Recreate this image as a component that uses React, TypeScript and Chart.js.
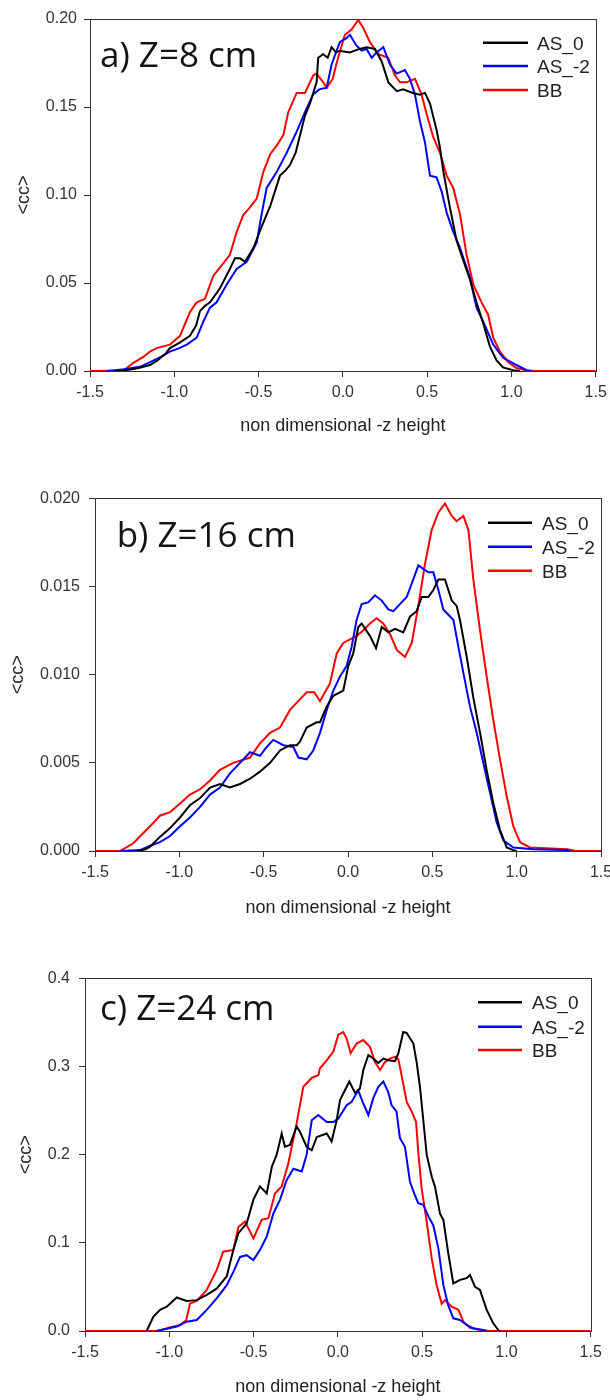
import React, { useEffect, useRef } from "react";
import { Chart, registerables } from "chart.js";

Chart.register(...registerables);

// ---------- axes ----------
const X_TICKS = [-1.5, -1.0, -0.5, 0.0, 0.5, 1.0, 1.5];
const A_Y_TICKS = [0, 0.05, 0.1, 0.15, 0.2];
const B_Y_TICKS = [0, 0.005, 0.01, 0.015, 0.02];
const C_Y_TICKS = [0, 0.1, 0.2, 0.3, 0.4];
const X_TITLE = "non dimensional -z height";
const Y_TITLE = "<cc>";

const SERIES_NAMES = ["AS_0", "AS_-2", "BB"];
const SERIES_COLORS = ["#000000", "#0000ff", "#ff0000"];
const PANEL_LABELS = ["a) Z=8 cm", "b) Z=16 cm", "c) Z=24 cm"];

// ---------- panel a) Z=8 cm : [x, <cc>] ----------
const A_AS0: [number, number][] = [[-1.35,0],[-1.3,0.0003],[-1.25,0.001],[-1.2,0.002],[-1.144,0.0034],[-1.1,0.006],[-1.05,0.01],[-1.026,0.013],[-0.97,0.016],[-0.907,0.02],[-0.87,0.026],[-0.848,0.034],[-0.818,0.037],[-0.788,0.039],[-0.729,0.047],[-0.67,0.058],[-0.64,0.064],[-0.61,0.064],[-0.58,0.062],[-0.53,0.07],[-0.49,0.08],[-0.43,0.094],[-0.373,0.111],[-0.34,0.114],[-0.314,0.117],[-0.28,0.124],[-0.254,0.134],[-0.225,0.145],[-0.195,0.152],[-0.156,0.164],[-0.146,0.178],[-0.117,0.18],[-0.09,0.178],[-0.067,0.184],[-0.04,0.181],[-0.02,0.182],[0.04,0.181],[0.1,0.183],[0.14,0.184],[0.19,0.183],[0.23,0.176],[0.27,0.164],[0.32,0.159],[0.357,0.16],[0.415,0.158],[0.457,0.157],[0.487,0.158],[0.517,0.152],[0.556,0.137],[0.576,0.127],[0.595,0.114],[0.635,0.093],[0.675,0.074],[0.714,0.063],[0.754,0.052],[0.793,0.039],[0.833,0.027],[0.872,0.014],[0.912,0.006],[0.95,0.002],[1.01,0.0005],[1.05,0]];
const A_AS2: [number, number][] = [[-1.4,0],[-1.35,0.0005],[-1.3,0.001],[-1.25,0.0017],[-1.2,0.0025],[-1.144,0.005],[-1.08,0.008],[-1.026,0.011],[-0.97,0.013],[-0.926,0.015],[-0.867,0.019],[-0.828,0.028],[-0.788,0.036],[-0.749,0.039],[-0.69,0.049],[-0.63,0.058],[-0.57,0.062],[-0.511,0.073],[-0.482,0.089],[-0.452,0.104],[-0.393,0.113],[-0.333,0.124],[-0.274,0.136],[-0.225,0.147],[-0.177,0.157],[-0.14,0.16],[-0.096,0.161],[-0.067,0.174],[-0.037,0.182],[-0.017,0.187],[0.02,0.189],[0.042,0.191],[0.08,0.185],[0.112,0.182],[0.141,0.183],[0.171,0.178],[0.2,0.181],[0.24,0.184],[0.28,0.174],[0.319,0.169],[0.368,0.171],[0.398,0.166],[0.428,0.157],[0.457,0.142],[0.487,0.13],[0.517,0.111],[0.556,0.11],[0.586,0.102],[0.616,0.09],[0.655,0.079],[0.695,0.07],[0.754,0.053],[0.793,0.036],[0.833,0.028],[0.892,0.015],[0.951,0.0075],[1.03,0.0034],[1.09,0.0005],[1.12,0]];
const A_BB: [number, number][] = [[-1.5,0],[-1.3,0.0003],[-1.245,0.0045],[-1.184,0.008],[-1.144,0.011],[-1.105,0.013],[-1.026,0.015],[-0.966,0.02],[-0.907,0.0335],[-0.867,0.039],[-0.818,0.041],[-0.769,0.054],[-0.719,0.06],[-0.67,0.066],[-0.63,0.079],[-0.591,0.0886],[-0.551,0.093],[-0.511,0.098],[-0.472,0.113],[-0.432,0.123],[-0.393,0.128],[-0.353,0.134],[-0.324,0.147],[-0.274,0.158],[-0.225,0.158],[-0.175,0.168],[-0.156,0.169],[-0.116,0.164],[-0.096,0.161],[-0.06,0.166],[-0.037,0.175],[0.012,0.191],[0.052,0.194],[0.091,0.1995],[0.121,0.195],[0.16,0.187],[0.21,0.18],[0.269,0.178],[0.309,0.168],[0.339,0.164],[0.378,0.164],[0.428,0.166],[0.467,0.157],[0.497,0.146],[0.536,0.133],[0.576,0.124],[0.616,0.111],[0.655,0.104],[0.695,0.089],[0.734,0.066],[0.774,0.049],[0.823,0.039],[0.862,0.032],[0.892,0.019],[0.932,0.011],[0.981,0.005],[1.03,0.0017],[1.09,0.0003],[1.15,0],[1.5,0]];

// ---------- panel b) Z=16 cm ----------
const B_AS0: [number, number][] = [[-1.25,0],[-1.2,0.0001],[-1.174,0.00024],[-1.115,0.0008],[-1.055,0.0013],[-0.996,0.0019],[-0.937,0.0026],[-0.877,0.003],[-0.818,0.0036],[-0.759,0.0038],[-0.7,0.0036],[-0.64,0.0038],[-0.581,0.0041],[-0.522,0.0045],[-0.462,0.005],[-0.403,0.0057],[-0.344,0.006],[-0.304,0.006],[-0.285,0.0062],[-0.245,0.007],[-0.186,0.0073],[-0.166,0.0073],[-0.126,0.0082],[-0.087,0.0088],[-0.028,0.0091],[0.002,0.0105],[0.031,0.0112],[0.061,0.0127],[0.081,0.0129],[0.13,0.0122],[0.166,0.0115],[0.2,0.0127],[0.239,0.0124],[0.279,0.0126],[0.328,0.0124],[0.368,0.0133],[0.407,0.0136],[0.437,0.0144],[0.476,0.0144],[0.506,0.0148],[0.536,0.0154],[0.575,0.0154],[0.615,0.0142],[0.644,0.0139],[0.664,0.0131],[0.704,0.011],[0.743,0.0087],[0.783,0.0067],[0.822,0.0046],[0.862,0.0027],[0.901,0.0012],[0.941,0.0002],[0.98,0.00005],[1.0,0]];
const B_AS2: [number, number][] = [[-1.35,0],[-1.29,0.00003],[-1.233,0.00005],[-1.174,0.0003],[-1.115,0.0005],[-1.055,0.00085],[-0.996,0.0014],[-0.937,0.0019],[-0.877,0.0025],[-0.818,0.0032],[-0.759,0.0036],[-0.7,0.0044],[-0.64,0.005],[-0.581,0.0056],[-0.522,0.0054],[-0.482,0.0059],[-0.443,0.0063],[-0.383,0.006],[-0.324,0.0059],[-0.294,0.0053],[-0.245,0.0052],[-0.206,0.0057],[-0.166,0.0067],[-0.126,0.008],[-0.087,0.0091],[-0.047,0.0099],[-0.008,0.0105],[0.022,0.0116],[0.051,0.0131],[0.081,0.014],[0.12,0.0141],[0.16,0.0145],[0.2,0.0142],[0.239,0.0137],[0.269,0.0136],[0.308,0.014],[0.348,0.0144],[0.387,0.0154],[0.417,0.0162],[0.447,0.016],[0.476,0.0158],[0.506,0.0158],[0.536,0.0148],[0.565,0.0137],[0.595,0.0134],[0.625,0.0131],[0.654,0.0116],[0.684,0.0101],[0.723,0.0082],[0.763,0.0067],[0.802,0.005],[0.842,0.0033],[0.882,0.0016],[0.921,0.0006],[0.98,0.0002],[1.1,0.0001],[1.3,0.00005],[1.32,0]];
const B_BB: [number, number][] = [[-1.5,0],[-1.352,0],[-1.273,0.00044],[-1.174,0.0014],[-1.115,0.002],[-1.055,0.0022],[-0.996,0.0027],[-0.937,0.0032],[-0.877,0.0035],[-0.818,0.004],[-0.759,0.0046],[-0.68,0.005],[-0.581,0.0053],[-0.522,0.0061],[-0.462,0.0067],[-0.403,0.007],[-0.344,0.008],[-0.285,0.0086],[-0.245,0.009],[-0.2,0.009],[-0.166,0.0085],[-0.107,0.0095],[-0.067,0.0112],[-0.028,0.0118],[0.012,0.012],[0.051,0.0122],[0.09,0.0125],[0.13,0.0129],[0.17,0.0132],[0.209,0.0129],[0.249,0.0123],[0.289,0.0114],[0.338,0.011],[0.378,0.0118],[0.417,0.0139],[0.457,0.0163],[0.496,0.0182],[0.536,0.0192],[0.575,0.0197],[0.615,0.019],[0.644,0.0187],[0.684,0.019],[0.714,0.0182],[0.743,0.0154],[0.783,0.0125],[0.822,0.0099],[0.862,0.0074],[0.901,0.0052],[0.941,0.0031],[0.98,0.0014],[1.02,0.0005],[1.079,0.0002],[1.3,0.0001],[1.35,0],[1.5,0]];

// ---------- panel c) Z=24 cm ----------
const C_AS0: [number, number][] = [[-1.134,0],[-1.095,0.016],[-1.055,0.024],[-1.015,0.0276],[-0.956,0.038],[-0.897,0.034],[-0.837,0.035],[-0.778,0.041],[-0.719,0.048],[-0.659,0.062],[-0.62,0.092],[-0.59,0.111],[-0.541,0.122],[-0.501,0.149],[-0.462,0.164],[-0.422,0.156],[-0.392,0.186],[-0.363,0.2],[-0.333,0.224],[-0.314,0.209],[-0.284,0.211],[-0.244,0.232],[-0.225,0.226],[-0.185,0.209],[-0.155,0.205],[-0.125,0.22],[-0.066,0.224],[-0.037,0.215],[-0.007,0.239],[0.013,0.262],[0.042,0.273],[0.068,0.283],[0.102,0.27],[0.131,0.275],[0.151,0.296],[0.181,0.313],[0.21,0.309],[0.24,0.304],[0.27,0.309],[0.299,0.307],[0.339,0.306],[0.359,0.315],[0.388,0.339],[0.408,0.338],[0.448,0.326],[0.468,0.304],[0.487,0.277],[0.507,0.239],[0.527,0.2],[0.557,0.175],[0.576,0.164],[0.606,0.133],[0.626,0.126],[0.655,0.088],[0.685,0.054],[0.725,0.058],[0.764,0.06],[0.784,0.0635],[0.814,0.05],[0.843,0.0465],[0.883,0.024],[0.922,0.0087],[0.952,0.001],[0.96,0]];
const C_AS2: [number, number][] = [[-1.075,0],[-1.015,0.0026],[-0.956,0.005],[-0.897,0.0106],[-0.837,0.0125],[-0.778,0.024],[-0.719,0.037],[-0.659,0.052],[-0.62,0.067],[-0.58,0.084],[-0.541,0.086],[-0.501,0.0805],[-0.462,0.092],[-0.422,0.107],[-0.383,0.133],[-0.343,0.149],[-0.304,0.171],[-0.264,0.184],[-0.214,0.181],[-0.185,0.2],[-0.155,0.239],[-0.116,0.245],[-0.066,0.237],[-0.027,0.237],[0.003,0.241],[0.052,0.256],[0.082,0.26],[0.121,0.273],[0.151,0.258],[0.181,0.245],[0.21,0.264],[0.24,0.277],[0.27,0.283],[0.299,0.271],[0.319,0.256],[0.348,0.249],[0.368,0.219],[0.398,0.209],[0.428,0.169],[0.457,0.154],[0.477,0.145],[0.507,0.143],[0.537,0.13],[0.566,0.12],[0.596,0.094],[0.626,0.052],[0.655,0.029],[0.685,0.0144],[0.725,0.0125],[0.764,0.0068],[0.804,0.003],[0.863,0.0011],[0.88,0]];
const C_BB: [number, number][] = [[-1.5,0],[-1.08,0],[-1.055,0.001],[-0.996,0.004],[-0.936,0.0068],[-0.9,0.012],[-0.877,0.031],[-0.837,0.034],[-0.778,0.0465],[-0.719,0.069],[-0.68,0.09],[-0.62,0.092],[-0.59,0.118],[-0.551,0.124],[-0.501,0.105],[-0.452,0.126],[-0.412,0.128],[-0.373,0.156],[-0.333,0.164],[-0.294,0.19],[-0.244,0.236],[-0.205,0.277],[-0.155,0.287],[-0.116,0.29],[-0.106,0.298],[-0.066,0.307],[-0.027,0.317],[0.003,0.336],[0.032,0.339],[0.052,0.332],[0.076,0.315],[0.111,0.326],[0.151,0.33],[0.191,0.322],[0.22,0.305],[0.25,0.296],[0.28,0.305],[0.309,0.309],[0.339,0.311],[0.359,0.308],[0.378,0.29],[0.408,0.26],[0.438,0.249],[0.464,0.237],[0.477,0.203],[0.497,0.162],[0.527,0.124],[0.557,0.082],[0.586,0.052],[0.616,0.031],[0.636,0.035],[0.675,0.0276],[0.715,0.024],[0.745,0.0106],[0.784,0.0037],[0.843,0.001],[0.9,0],[1.5,0]];

// ---------- layout (pixels, style only) ----------
type PanelCfg = {
  top: number; height: number;
  left: number; right: number; plotTop: number; plotBottom: number;
  yTicks: number[]; yDec: number;
  yLabelPad: number; yTitlePad: number; xTitlePad: number;
  label: string; labelX: number; labelY: number;
  legX0: number; legX1: number; legTextX: number; legRows: number[];
  series: [number, number][][];
};

const PANELS: PanelCfg[] = [
  { top: 0, height: 470, left: 90, right: 595.7, plotTop: 19, plotBottom: 371,
    yTicks: A_Y_TICKS, yDec: 2, yLabelPad: 7, yTitlePad: 13, xTitlePad: 33,
    label: PANEL_LABELS[0], labelX: 100, labelY: 67,
    legX0: 483, legX1: 528, legTextX: 537, legRows: [42.7, 66, 90],
    series: [A_AS0, A_AS2, A_BB] },
  { top: 470, height: 480, left: 95, right: 601, plotTop: 28.3, plotBottom: 381,
    yTicks: B_Y_TICKS, yDec: 3, yLabelPad: 9, yTitlePad: 7, xTitlePad: 31,
    label: PANEL_LABELS[1], labelX: 116.7, labelY: 76.7,
    legX0: 488, legX1: 532, legTextX: 542, legRows: [52.7, 76.7, 100.7],
    series: [B_AS0, B_AS2, B_BB] },
  { top: 950, height: 450, left: 85, right: 590.7, plotTop: 28.3, plotBottom: 381,
    yTicks: C_Y_TICKS, yDec: 1, yLabelPad: 9, yTitlePad: 15, xTitlePad: 2,
    label: PANEL_LABELS[2], labelX: 100, labelY: 70,
    legX0: 478, legX1: 522, legTextX: 532, legRows: [52.3, 76.7, 100],
    series: [C_AS0, C_AS2, C_BB] },
];

const SANS = "'Liberation Sans', Arial, sans-serif";
const AXIS_COLOR = "#333333";

function Panel({ cfg }: { cfg: PanelCfg }) {
  const ref = useRef<HTMLCanvasElement | null>(null);
  useEffect(() => {
    if (!ref.current) return;
    const decor = {
      id: "decor",
      beforeDatasetsDraw(chart: any) {
        const { ctx, chartArea: a } = chart;
        ctx.save();
        ctx.strokeStyle = AXIS_COLOR;
        ctx.lineWidth = 1;
        const l = Math.round(a.left) + 0.5, t = Math.round(a.top) + 0.5;
        const r = Math.round(a.right) + 0.5, b = Math.round(a.bottom) + 0.5;
        ctx.strokeRect(l, t, r - l, b - t);
        ctx.restore();
      },
      afterDraw(chart: any) {
        const { ctx } = chart;
        ctx.save();
        ctx.fillStyle = "#141414";
        ctx.font = "35px 'Open Sans', sans-serif";
        ctx.textBaseline = "alphabetic";
        ctx.textAlign = "left";
        ctx.fillText(cfg.label, cfg.labelX, cfg.labelY);
        chart.data.datasets.forEach((ds: any, i: number) => {
          const y = cfg.legRows[i];
          ctx.strokeStyle = ds.borderColor;
          ctx.lineWidth = 2.5;
          ctx.beginPath();
          ctx.moveTo(cfg.legX0, y);
          ctx.lineTo(cfg.legX1, y);
          ctx.stroke();
          ctx.fillStyle = "#222222";
          ctx.font = `19px ${SANS}`;
          ctx.fillText(ds.label, cfg.legTextX, y + 6.8);
        });
        ctx.restore();
      },
    };

    const chart = new Chart(ref.current, {
      type: "line",
      data: {
        datasets: cfg.series.map((pts, i) => ({
          label: SERIES_NAMES[i],
          data: pts.map(([x, y]) => ({ x, y })),
          borderColor: SERIES_COLORS[i],
          backgroundColor: SERIES_COLORS[i],
          borderWidth: 2,
          pointRadius: 0,
          tension: 0,
          fill: false,
        })),
      },
      options: {
        animation: false,
        responsive: false,
        devicePixelRatio: 1,
        layout: { padding: { left: 0, right: 610 - cfg.right, top: cfg.plotTop, bottom: 0 } },
        plugins: { legend: { display: false }, title: { display: false }, tooltip: { enabled: false } },
        scales: {
          x: {
            type: "linear",
            min: -1.5,
            max: 1.5,
            afterBuildTicks: (s: any) => { s.ticks = X_TICKS.map((v) => ({ value: v })); },
            afterFit: (s: any) => { s.height = cfg.height - cfg.plotBottom; s.paddingLeft = 0; s.paddingRight = 0; },
            ticks: {
              callback: (v: any) => Number(v).toFixed(1),
              font: { family: SANS, size: 16 },
              color: AXIS_COLOR,
              padding: 6,
              maxRotation: 0,
              autoSkip: false,
            },
            grid: { display: true, drawOnChartArea: false, drawTicks: true, tickLength: 6, color: AXIS_COLOR },
            border: { display: false },
            title: {
              display: true,
              text: X_TITLE,
              font: { family: SANS, size: 18 },
              color: "#222222",
              padding: { top: 0, bottom: cfg.xTitlePad },
            },
          },
          y: {
            type: "linear",
            min: cfg.yTicks[0],
            max: cfg.yTicks[cfg.yTicks.length - 1],
            afterBuildTicks: (s: any) => { s.ticks = cfg.yTicks.map((v) => ({ value: v })); },
            afterFit: (s: any) => { s.width = cfg.left; s.paddingTop = 0; s.paddingBottom = 0; },
            ticks: {
              callback: (v: any) => Number(v).toFixed(cfg.yDec),
              font: { family: SANS, size: 16 },
              color: AXIS_COLOR,
              padding: cfg.yLabelPad,
              autoSkip: false,
            },
            grid: { display: true, drawOnChartArea: false, drawTicks: true, tickLength: 6, color: AXIS_COLOR },
            border: { display: false },
            title: {
              display: true,
              text: Y_TITLE,
              font: { family: SANS, size: 18 },
              color: "#222222",
              padding: { top: cfg.yTitlePad, bottom: 0 },
            },
          },
        },
      },
      plugins: [decor],
    } as any);
    return () => chart.destroy();
  }, [cfg]);

  return (
    <div style={{ position: "absolute", left: 0, top: cfg.top, width: 610, height: cfg.height }}>
      <canvas ref={ref} width={610} height={cfg.height} style={{ display: "block", width: 610, height: cfg.height }} />
    </div>
  );
}

export default function App() {
  return (
    <div style={{ position: "absolute", left: 0, top: 0, width: 610, height: 1400, background: "#ffffff" }}>
      {PANELS.map((p, i) => (
        <Panel key={i} cfg={p} />
      ))}
    </div>
  );
}
